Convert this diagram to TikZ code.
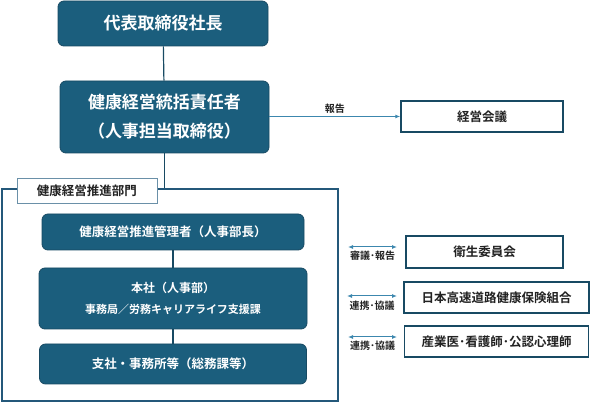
\documentclass[tikz,border=0pt]{standalone}
\usepackage{fontspec}
\setmainfont{Noto Sans CJK JP}[BoldFont={Noto Sans CJK JP Bold}]
\usetikzlibrary{arrows.meta}
\definecolor{boxfill}{HTML}{1B5E7D}
\definecolor{boxline}{HTML}{184A63}
\definecolor{frameline}{HTML}{24587A}
\definecolor{linkblue}{HTML}{3C87AE}
\definecolor{tagline}{HTML}{6A90A8}
\definecolor{textdark}{HTML}{222222}
\begin{document}
\begin{tikzpicture}[x=1pt, y=-1pt,
    main/.style = {draw=boxline, fill=boxfill, line width=0.8pt, rounded corners=6pt,
                   text=white, align=center, inner sep=0pt},
    side/.style = {draw=boxline, fill=white, line width=1.4pt, text=textdark,
                   font=\fontsize{12.5}{14}\selectfont\bfseries, inner sep=0pt},
    tag/.style = {draw=tagline, fill=white, line width=0.8pt, text=textdark,
                  font=\fontsize{12.5}{14}\selectfont\bfseries, inner sep=0pt},
    frame/.style = {draw=frameline, line width=1.2pt, inner sep=0pt},
    link/.style = {draw=boxline, line width=1.2pt},
    report/.style = {draw=linkblue, line width=1pt, -{Latex[length=5pt,width=4pt]}},
    both/.style = {draw=linkblue, line width=1pt, {Latex[length=5pt,width=4pt]}-{Latex[length=5pt,width=4pt]}},
    note/.style = {text=textdark, font=\fontsize{10}{11}\selectfont\bfseries, inner sep=1pt}]
  \useasboundingbox (0,0) rectangle (590,403);

  % top of the chart
  \node[main, minimum width=210pt, minimum height=45pt,
        font=\fontsize{17}{20}\selectfont\bfseries] (ceo) at (163,23.5) {代表取締役社長};
  \node[main, minimum width=209pt, minimum height=72pt,
        font=\fontsize{17}{29}\selectfont\bfseries] (cho) [below of=ceo, node distance=93.5pt, xshift=1.5pt]
        {健康経営統括責任者\\（人事担当取締役）};

  % department
  \node[frame, minimum width=336pt, minimum height=212pt] (dept) at (170,295) {};
  \node[tag, minimum width=140pt, minimum height=25pt] (deptname) at (87,190.5) {健康経営推進部門};

  \node[main, minimum width=262pt, minimum height=36pt,
        font=\fontsize{12.5}{14}\selectfont\bfseries] (mgr) at (173,232) {健康経営推進管理者（人事部長）};
  \node[main, minimum width=268pt, minimum height=61pt,
        font=\fontsize{12}{21}\selectfont\bfseries] (hq) [below of=mgr, node distance=66.5pt]
        {本社（人事部）\\{\fontsize{11}{21}\selectfont 事務局／労務キャリアライフ支援課}};
  \node[main, minimum width=267pt, minimum height=40pt,
        font=\fontsize{12.5}{14}\selectfont\bfseries] (branch) [below of=hq, node distance=65.5pt]
        {支社・事務所等（総務課等）};

  % right side
  \node[side, minimum width=162pt, minimum height=31pt] (meeting) at (482,116.5) {経営会議};
  \node[side, minimum width=157pt, minimum height=32pt] (eisei) at (484.5,252) {衛生委員会};
  \node[side, minimum width=185pt, minimum height=31pt] (kenpo) [below of=eisei, node distance=45.5pt, xshift=12pt]
        {日本高速道路健康保険組合};
  \node[side, minimum width=184pt, minimum height=31pt] (sangyo) [below of=kenpo, node distance=44pt]
        {産業医･看護師･公認心理師};

  \coordinate (e1) at (348,247);
  \coordinate (f1) at (397,247);
  \coordinate (e2) at (347,296);
  \coordinate (f2) at (397,296);
  \coordinate (e3) at (348,337);
  \coordinate (f3) at (397,337);

  \draw[link] (ceo) -- (cho);
  \draw[link] (cho) -- (cho |- dept.north);
  \draw[link] (mgr) -- (hq);
  \draw[link] (hq) -- (branch);
  \draw[report] (cho.east |- meeting) -- node[note, above=2pt] {報告} (meeting);
  \draw[both] (e1) -- node[note, below=3pt] {審議･報告} (f1);
  \draw[both] (e2) -- node[note, below=3pt] {連携･協議} (f2);
  \draw[both] (e3) -- node[note, below=2pt] {連携･協議} (f3);
\end{tikzpicture}
\end{document}
